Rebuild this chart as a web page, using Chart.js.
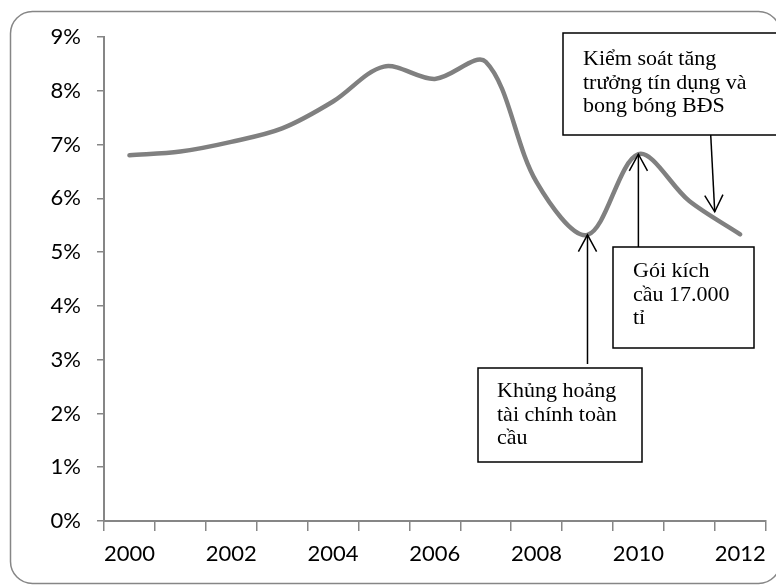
<!DOCTYPE html>
<html>
<head>
<meta charset="utf-8">
<script src="https://cdn.jsdelivr.net/npm/chart.js@4/dist/chart.umd.min.js"></script>
<style>
  html, body { margin: 0; padding: 0; background: #fff; }
  #wrap { width: 776px; height: 585px; }
</style>
</head>
<body>
<div id="wrap"><canvas id="c" width="776" height="585"></canvas></div>
<script>
// Years on the category axis (every other one is labelled)
const years = ['2000','2001','2002','2003','2004','2005','2006','2007','2008','2009','2010','2011','2012'];
// Growth rate, percent
const growth = [6.8, 6.87, 7.05, 7.3, 7.8, 8.45, 8.22, 8.54, 6.3, 5.32, 6.82, 5.95, 5.33];
// Y axis range, percent
const yMin = 0;
const yMax = 9;

// Callout texts and the point each one refers to (index on the year axis, value in percent)
const noteTexts = [
  ['Kiểm soát tăng', 'trưởng tín dụng và', 'bong bóng BĐS'],
  ['Gói kích', 'cầu 17.000', 'tỉ'],
  ['Khủng hoảng', 'tài chính toàn', 'cầu']
];
const noteTargets = [
  { idx: 11.5, val: 5.75 },
  { idx: 10,   val: growth[10] },
  { idx: 9,    val: growth[9] }
];

// Layout of the callout boxes (pixels)
const noteLayout = [
  { box: [563, 33, 220, 102], text: [583, 65], arrowFrom: 'bottom', fromY: 135 },
  { box: [613, 247, 141, 101], text: [633, 277], arrowFrom: 'top', fromY: 247 },
  { box: [478, 368, 164, 94], text: [497, 397], arrowFrom: 'top', fromY: 364 }
];

const AXIS = '#868686';

const frame = {
  id: 'frame',
  beforeDraw(chart) {
    const ctx = chart.ctx;
    ctx.save();
    ctx.fillStyle = '#fff';
    ctx.fillRect(0, 0, chart.width, chart.height);
    const x = 10.5, y = 11.5, w = 770, h = 572, r = 22;
    ctx.beginPath();
    ctx.moveTo(x + r, y);
    ctx.lineTo(x + w - r, y);
    ctx.arcTo(x + w, y, x + w, y + r, r);
    ctx.lineTo(x + w, y + h - r);
    ctx.arcTo(x + w, y + h, x + w - r, y + h, r);
    ctx.lineTo(x + r, y + h);
    ctx.arcTo(x, y + h, x, y + h - r, r);
    ctx.lineTo(x, y + r);
    ctx.arcTo(x, y, x + r, y, r);
    ctx.closePath();
    ctx.strokeStyle = AXIS;
    ctx.lineWidth = 1.5;
    ctx.stroke();
    ctx.restore();
  }
};

function arrowHead(ctx, tx, ty, fx, fy) {
  const ang = Math.atan2(fy - ty, fx - tx);
  const len = 19, spread = 0.5;
  ctx.beginPath();
  ctx.moveTo(tx + len * Math.cos(ang - spread), ty + len * Math.sin(ang - spread));
  ctx.lineTo(tx, ty);
  ctx.lineTo(tx + len * Math.cos(ang + spread), ty + len * Math.sin(ang + spread));
  ctx.stroke();
}

const callouts = {
  id: 'callouts',
  afterDatasetsDraw(chart) {
    const ctx = chart.ctx;
    const xs = chart.scales.x, ys = chart.scales.y;
    ctx.save();
    noteLayout.forEach((n, i) => {
      const [bx, by, bw, bh] = n.box;
      ctx.fillStyle = '#fff';
      ctx.fillRect(bx, by, bw, bh);
      ctx.strokeStyle = '#000';
      ctx.lineWidth = 1.5;
      ctx.strokeRect(bx, by, bw, bh);
      ctx.fillStyle = '#000';
      ctx.font = '22px "Liberation Serif", "Times New Roman", serif';
      ctx.textBaseline = 'alphabetic';
      ctx.textAlign = 'left';
      noteTexts[i].forEach((line, k) => {
        ctx.fillText(line, n.text[0], n.text[1] + k * 23.5);
      });
      const t = noteTargets[i];
      const tx = xs.getPixelForValue(t.idx);
      const ty = ys.getPixelForValue(t.val);
      const fx = n.arrowFrom === 'bottom' ? tx - 4 : tx;
      ctx.beginPath();
      ctx.moveTo(fx, n.fromY);
      ctx.lineTo(tx, ty);
      ctx.stroke();
      arrowHead(ctx, tx, ty, fx, n.fromY);
    });
    ctx.restore();
  }
};

new Chart(document.getElementById('c'), {
  type: 'line',
  data: {
    labels: years,
    datasets: [{
      data: growth,
      borderColor: '#808080',
      borderWidth: 4.5,
      borderCapStyle: 'round',
      borderJoinStyle: 'round',
      tension: 0.33,
      pointRadius: 0,
      fill: false
    }]
  },
  options: {
    responsive: false,
    animation: false,
    layout: { padding: { top: 37, right: 8, left: 0, bottom: 0 } },
    plugins: { legend: { display: false }, tooltip: { enabled: false } },
    scales: {
      x: {
        offset: true,
        grid: {
          offset: true,
          drawOnChartArea: false,
          drawTicks: true,
          tickLength: 10,
          color: AXIS,
          lineWidth: 1.5
        },
        border: { color: AXIS, width: 2 },
        ticks: {
          autoSkip: false,
          maxRotation: 0,
          padding: 10,
          color: '#000',
          font: { family: 'Lato, "Open Sans", sans-serif', size: 22 },
          callback: (v, i) => (i % 2 === 0 ? years[i] : '')
        },
        afterFit: s => { s.height = 64; }
      },
      y: {
        min: yMin,
        max: yMax,
        grid: {
          drawOnChartArea: false,
          drawTicks: true,
          tickLength: 7,
          color: AXIS,
          lineWidth: 1.5
        },
        border: { color: AXIS, width: 2 },
        ticks: {
          stepSize: 1,
          padding: 16,
          color: '#000',
          font: { family: 'Lato, "Open Sans", sans-serif', size: 22 },
          callback: v => v + '%'
        },
        afterFit: s => { s.width = 104; }
      }
    }
  },
  plugins: [frame, callouts]
});
</script>
</body>
</html>
